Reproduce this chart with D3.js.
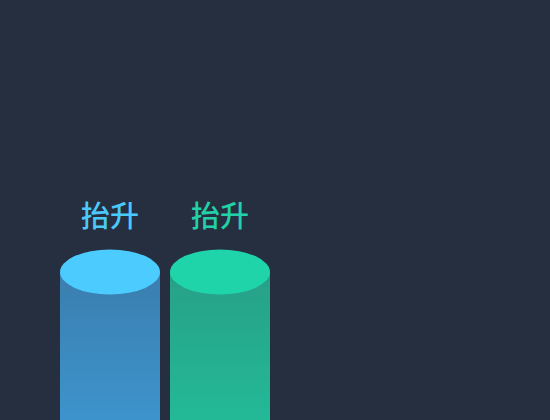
<!DOCTYPE html>
<html><head><meta charset="utf-8">
<script src="https://cdn.jsdelivr.net/npm/d3@7/dist/d3.min.js"></script>
<style>html,body{margin:0;padding:0;background:#262f40;overflow:hidden}</style>
</head><body>
<svg id="c" width="550" height="420"></svg>
<script>
const categories = ["A", "B"];
const values = [60, 60];
const labels = ["抬升", "抬升"];
const topColors = ["#4ccbfe", "#20d4a9"];
const bodyTop = ["#3a7eae", "#27a087"];
const bodyBottom = ["#3f9fdd", "#21c7a0"];
const labelColors = ["#4cc9fb", "#22d1a7"];

const svg = d3.select("#c");
const x = d3.scaleBand().domain(categories).range([60, 270]).paddingInner(10 / 110).paddingOuter(0);
const y = d3.scaleLinear().domain([0, 100]).range([500, 120]);

const defs = svg.append("defs");
categories.forEach((c, i) => {
  const g = defs.append("linearGradient").attr("id", "g" + i).attr("x1", 0).attr("y1", 0).attr("x2", 0).attr("y2", 1);
  g.append("stop").attr("offset", "0%").attr("stop-color", bodyTop[i]);
  g.append("stop").attr("offset", "100%").attr("stop-color", bodyBottom[i]);
});

const ry = 22.5;
const gBars = svg.selectAll("g.bar").data(categories).join("g").attr("class", "bar");
gBars.append("rect")
  .attr("x", d => x(d))
  .attr("y", (d, i) => y(values[i]))
  .attr("width", x.bandwidth())
  .attr("height", (d, i) => y(0) - y(values[i]))
  .attr("fill", (d, i) => `url(#g${i})`);
gBars.append("ellipse")
  .attr("cx", d => x(d) + x.bandwidth() / 2)
  .attr("cy", (d, i) => y(values[i]))
  .attr("rx", x.bandwidth() / 2)
  .attr("ry", ry)
  .attr("fill", (d, i) => topColors[i]);
gBars.append("text")
  .attr("x", d => x(d) + x.bandwidth() / 2)
  .attr("y", (d, i) => y(values[i]) - 45)
  .attr("text-anchor", "middle")
  .attr("font-family", "'Noto Sans CJK SC', sans-serif")
  .attr("font-weight", 500)
  .attr("font-size", 29)
  .attr("fill", (d, i) => labelColors[i])
  .text((d, i) => labels[i]);
</script>
</body></html>
